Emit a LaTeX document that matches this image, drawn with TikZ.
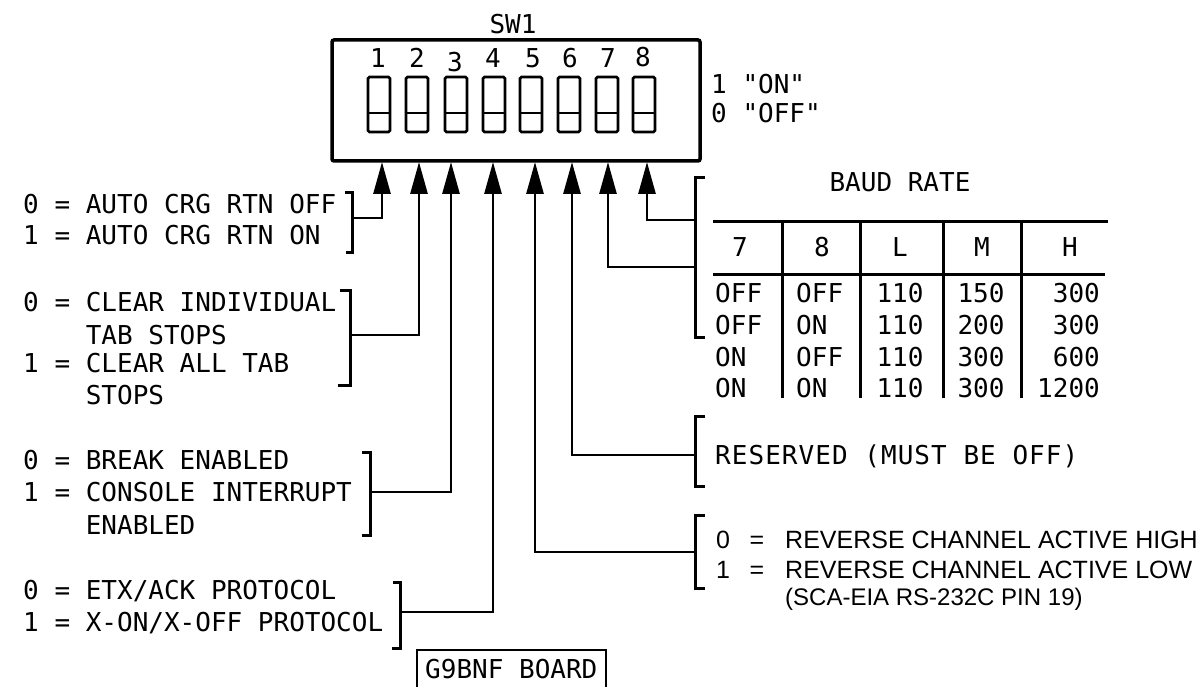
\documentclass[tikz,border=0pt]{standalone}
\usepackage{fontspec}
\usetikzlibrary{arrows.meta}
\newfontfamily\tw{DejaVu Sans Mono}
\newfontfamily\twwide{DejaVu Sans Mono}[LetterSpace=4]
\newfontfamily\hv{Liberation Sans}
\begin{document}
\begin{tikzpicture}[x=1pt,y=-1pt,
  mono/.style={inner sep=0pt,font=\tw\fontsize{26}{30}\selectfont},
  monowide/.style={inner sep=0pt,font=\twwide\fontsize{26}{30}\selectfont},
  sans/.style={inner sep=0pt,font=\hv\fontsize{25}{29}\selectfont},
  sanssmall/.style={inner sep=0pt,font=\hv\fontsize{24}{28}\selectfont},
  conn/.style={line width=2.8pt},
  arr/.style={conn,-{Triangle[length=32pt,width=17pt]}},
  brk/.style={line width=3pt},
  tbl/.style={line width=3pt},
  swbox/.style={draw,line width=2.8pt,rounded corners=1.5pt,minimum width=22pt,minimum height=55pt,inner sep=0pt}]
\useasboundingbox (0,0) rectangle (1201,687);

% switch housing
\node[draw,line width=3.5pt,rounded corners=2pt,minimum width=368pt,minimum height=121pt,inner sep=0pt] (sw) at (516,100.5) {};
\node[mono,anchor=base] (swlabel) at (513,34) {SW1};
\foreach \i/\x/\nx/\ny in {1/379/378/68,2/417/417/68,3/456/455/72,4/494/493/68,5/531/533/68,6/569/570/68,7/607/608/68,8/644/643/67}{
  \node[swbox] (k\i) at (\x,104.5) {};
  \draw[line width=2.8pt] ([yshift=-8.5pt]k\i.west) -- ([yshift=-8.5pt]k\i.east);
  \node[mono,anchor=base] (n\i) at (\nx,\ny) {\i};
}
\node[mono,anchor=base west] (on) at (711,94) {1 \textquotedbl ON\textquotedbl};
\node[mono,anchor=base west] (off) at (711,123) {0 \textquotedbl OFF\textquotedbl};

% arrow end points on the housing
\foreach \i/\x in {1/382,2/419,3/451,4/493,5/535,6/572,7/608,8/647}{
  \coordinate (p\i) at (\x,162);
}

% left descriptions
\node[mono,anchor=base west] (a0) at (23,213) {0 = AUTO CRG RTN OFF};
\node[mono,anchor=base west] (a1) at (23,244) {1 = AUTO CRG RTN ON};
\node[mono,anchor=base west] (c0) at (23,311) {0 = CLEAR INDIVIDUAL};
\node[mono,anchor=base west] (c0b) at (85.6,344) {TAB STOPS};
\node[mono,anchor=base west] (c1) at (23,372) {1 = CLEAR ALL TAB};
\node[mono,anchor=base west] (c1b) at (85.6,404) {STOPS};
\node[mono,anchor=base west] (k0t) at (23,469) {0 = BREAK ENABLED};
\node[mono,anchor=base west] (k1t) at (23,501) {1 = CONSOLE INTERRUPT};
\node[mono,anchor=base west] (k1b) at (85.6,534) {ENABLED};
\node[mono,anchor=base west] (e0) at (23,599) {0 = ETX/ACK PROTOCOL};
\node[mono,anchor=base west] (e1) at (23,631) {1 = X-ON/X-OFF PROTOCOL};

% left brackets
\draw[brk] (345,193) -- (352,193) -- (352,252) -- (346,252);
\draw[brk] (340,290) -- (350,290) -- (350,385) -- (338,385);
\draw[brk] (362,452) -- (370,452) -- (370,535) -- (362,535);
\draw[brk] (393,582) -- (400,582) -- (400,648) -- (392,648);
\coordinate (j1) at (352,218);
\coordinate (j2) at (350,335);
\coordinate (j3) at (370,492);
\coordinate (j4) at (400,612);
\draw[arr] (j1) -| (p1);
\draw[arr] (j2) -| (p2);
\draw[arr] (j3) -| (p3);
\draw[arr] (j4) -| (p4);

% right brackets
\draw[brk] (705,178) -- (695,178) -- (695,337) -- (705,337);
\draw[brk] (705,416) -- (695,416) -- (695,486) -- (705,486);
\draw[brk] (705,515) -- (695,515) -- (695,588) -- (705,588);
\coordinate (j5) at (695,552);
\coordinate (j6) at (695,455);
\coordinate (j7) at (695,267);
\coordinate (j8) at (695,220);
\draw[arr] (j5) -| (p5);
\draw[arr] (j6) -| (p6);
\draw[arr] (j7) -| (p7);
\draw[arr] (j8) -| (p8);

% baud rate table
\node[mono,anchor=base] (baud) at (900,192) {BAUD RATE};
\draw[tbl] (713,221) -- (1108,221);
\draw[tbl] (713,274) -- (1105,274);
\foreach \x in {782,860,943,1021}{ \draw[tbl] (\x,221) -- (\x,398); }
\node[mono,anchor=base] (h7) at (740,256) {7};
\node[mono,anchor=base] (h8) at (822,256) {8};
\node[mono,anchor=base] (hL) at (900,256) {L};
\node[mono,anchor=base] (hM) at (982,256) {M};
\node[mono,anchor=base] (hH) at (1070,256) {H};
\foreach \r/\y/\a/\b/\c/\d/\e in {1/302/OFF/OFF/110/150/300,2/334/OFF/ON/110/200/300,3/366/ON/OFF/110/300/600,4/397/ON/ON/110/300/1200}{
  \node[mono,anchor=base west] (r\r a) at (715,\y) {\a};
  \node[mono,anchor=base west] (r\r b) at (796,\y) {\b};
  \node[mono,anchor=base] (r\r c) at (900,\y) {\c};
  \node[mono,anchor=base] (r\r d) at (981,\y) {\d};
  \node[mono,anchor=base east] (r\r e) at (1100,\y) {\e};
}

% reserved
\node[monowide,anchor=base west] (res) at (715,464) {RESERVED (MUST BE OFF)};

% reverse channel
\node[sans,anchor=base west] (v0) at (716,548) {0};
\node[sans,anchor=base] (v0eq) at (757,548) {=};
\node[sans,anchor=base west] (v0t) at (785,548) {REVERSE CHANNEL ACTIVE HIGH};
\node[sans,anchor=base west] (v1) at (716,578) {1};
\node[sans,anchor=base] (v1eq) at (757,578) {=};
\node[sans,anchor=base west] (v1t) at (785,578) {REVERSE CHANNEL ACTIVE LOW};
\node[sanssmall,anchor=base west] (v2t) at (785,605) {(SCA-EIA RS-232C PIN 19)};

% board label
\draw[line width=2.8pt] (417,690) -- (417,650) -- (606,650) -- (606,690);
\node[mono,anchor=base west] (board) at (425,678) {G9BNF BOARD};
\end{tikzpicture}
\end{document}
